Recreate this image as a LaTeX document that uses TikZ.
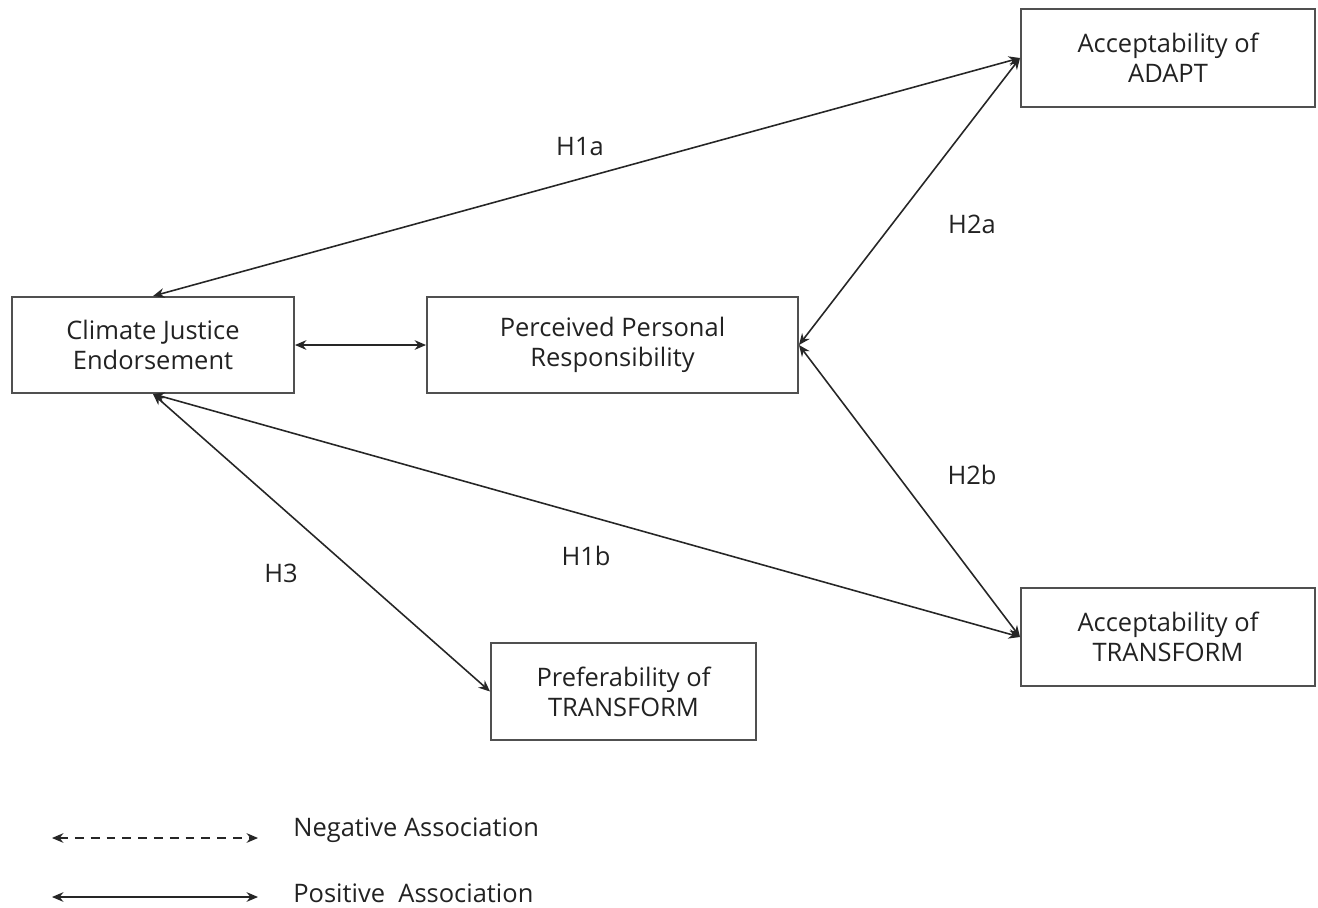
\documentclass[tikz,border=0pt]{standalone}
\usepackage{fontspec}
\setmainfont{Open Sans}
\usetikzlibrary{arrows.meta}
\definecolor{boxgray}{HTML}{505050}
\definecolor{txt}{HTML}{222222}
\begin{document}
\begin{tikzpicture}[x=0.02cm,y=-0.02cm,
  box/.style={draw=boxgray,line width=1.1pt,fill=white,align=center,text=txt,font=\fontsize{14.5pt}{17pt}\selectfont,inner sep=0pt},
  link/.style={draw=black!85,line width=0.9pt,{Stealth[length=6.5pt,width=5.5pt]}-{Stealth[length=6.5pt,width=5.5pt]}},
  lab/.style={text=txt,font=\fontsize{14.5pt}{17pt}\selectfont,inner sep=0pt}]
\useasboundingbox (0,0) rectangle (1318,907);
\node[box,minimum width=282*0.02cm,minimum height=96*0.02cm] (cje) at (153,345) {Climate Justice\\Endorsement};
\node[box,minimum width=371*0.02cm,minimum height=96*0.02cm] (ppr) at (612.5,345) {Perceived Personal\\Responsibility};
\node[box,minimum width=294*0.02cm,minimum height=98*0.02cm] (adapt) at (1168,58) {Acceptability of\\ADAPT};
\node[box,minimum width=294*0.02cm,minimum height=98*0.02cm] (acct) at (1168,637) {Acceptability of\\TRANSFORM};
\node[box,minimum width=265*0.02cm,minimum height=97*0.02cm] (pre) at (623.5,691.5) {Preferability of\\TRANSFORM};
\draw[link] (cje.north) -- (adapt.west);
\draw[link] (cje.east) -- (ppr.west);
\draw[link] (ppr.east) -- (adapt.west);
\draw[link] (ppr.east) -- (acct.west);
\draw[link] (cje.south) -- (acct.west);
\draw[link] (cje.south) -- (pre.west);
\node[lab] (h1a) at (580,147) {H1a};
\node[lab] (h2a) at (972,224) {H2a};
\node[lab] (h2b) at (972,475) {H2b};
\node[lab] (h1b) at (586,556) {H1b};
\node[lab] (h3) at (281,573) {H3};
\coordinate (n1) at (52,838);
\coordinate (n2) at (258,838);
\coordinate (p1) at (52,897);
\coordinate (p2) at (258,897);
\draw[link,dashed,dash pattern=on 5pt off 4pt] (n1) -- (n2);
\draw[link] (p1) -- (p2);
\node[lab,anchor=west] (neg) at (293,830) {Negative Association};
\node[lab,anchor=west] (pos) at (293,893) {Positive\ \ Association};
\end{tikzpicture}
\end{document}
